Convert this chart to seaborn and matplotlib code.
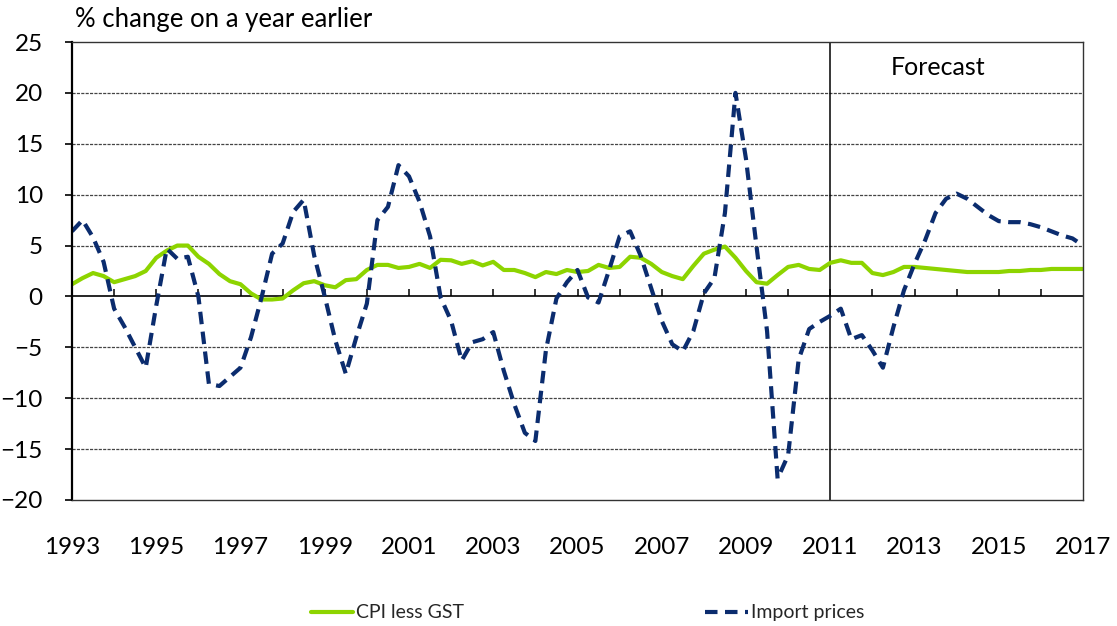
import numpy as np
import pandas as pd
import seaborn as sns
from matplotlib import pyplot as plt

sns.set_theme(style='white')
plt.rcParams['font.family'] = ['Lato', 'DejaVu Sans']

# quarterly, 1993Q1 .. 2017Q1
quarters = pd.period_range('1993Q1', '2017Q1', freq='Q')

cpi_less_gst = [
    1.2, 1.8, 2.3, 2.0, 1.4, 1.7, 2.0, 2.5, 3.8, 4.5, 5.0, 5.0,
    3.9, 3.2, 2.2, 1.5, 1.2, 0.3, -0.3, -0.3, -0.2, 0.6, 1.3, 1.5,
    1.1, 0.9, 1.6, 1.7, 2.6, 3.1, 3.1, 2.8, 2.9, 3.2, 2.8, 3.6,
    3.55, 3.2, 3.45, 3.05, 3.4, 2.6, 2.6, 2.3, 1.9, 2.4, 2.2, 2.6,
    2.4, 2.5, 3.1, 2.8, 2.9, 3.9, 3.8, 3.2, 2.4, 2.0, 1.7, 3.0,
    4.2, 4.6, 4.9, 3.8, 2.5, 1.4, 1.25, 2.1, 2.9, 3.1, 2.7, 2.6,
    3.3, 3.55, 3.3, 3.3, 2.3, 2.1, 2.4, 2.9, 2.9, 2.8, 2.7, 2.6,
    2.5, 2.4, 2.4, 2.4, 2.4, 2.5, 2.5, 2.6, 2.6, 2.7, 2.7, 2.7,
    2.7,
]

import_prices = [
    6.4, 7.5, 5.8, 3.4, -1.2, -3.0, -5.0, -7.0, -0.9, 4.7, 3.7, 3.9,
    0.0, -8.6, -8.8, -7.9, -7.0, -4.0, -0.1, 4.2, 5.2, 8.3, 9.5, 4.0,
    0.0, -4.3, -7.6, -4.0, -0.7, 7.5, 8.8, 12.9, 11.8, 9.3, 5.9, -0.1,
    -2.4, -6.3, -4.5, -4.2, -3.5, -7.3, -10.6, -13.4, -14.2, -5.3, -0.2, 1.4,
    2.6, -0.1, -0.6, 2.6, 5.9, 6.4, 4.0, 0.8, -2.4, -4.7, -5.4, -3.4,
    0.3, 1.8, 8.2, 20.0, 13.5, 4.9, -3.4, -17.9, -15.6, -6.2, -3.2, -2.5,
    -1.9, -1.2, -4.2, -3.8, -5.3, -7.0, -3.0, 0.6, 3.2, 5.5, 8.2, 9.6,
    10.1, 9.6, 8.8, 8.0, 7.4, 7.3, 7.3, 7.1, 6.8, 6.4, 6.0, 5.7,
    5.0,
]

year_labels = [str(y) for y in range(1993, 2018, 2)]
forecast_start = 2011

years = quarters.year + (quarters.quarter - 1) / 4
df = pd.DataFrame({
    'year': np.concatenate([years, years]),
    'value': cpi_less_gst + import_prices,
    'series': ['CPI less GST'] * len(years) + ['Import prices'] * len(years),
})

fig = plt.figure(figsize=(11.17, 6.26), dpi=100)
ax = fig.add_axes([72 / 1117, 1 - 500 / 626, (1083 - 72) / 1117, (500 - 42) / 626])

sns.lineplot(data=df, x='year', y='value', hue='series', style='series',
             palette={'CPI less GST': '#8DD400', 'Import prices': '#0B2C6E'},
             dashes={'CPI less GST': '', 'Import prices': (3, 1.8)},
             linewidth=3, ax=ax, legend=True)

ax.set_xlim(1993, 2017)
ax.set_ylim(-20, 25)
ax.set_yticks(range(-20, 30, 5))
ax.set_xticks([int(y) for y in year_labels])
ax.set_xticklabels(year_labels)
ax.set_xlabel('')
ax.set_ylabel('')

for v in range(-15, 25, 5):
    if v != 0:
        ax.axhline(v, color='#444444', lw=0.9, ls=(0, (2.5, 1)), zorder=0)
ax.axhline(0, color='black', lw=1.2, zorder=1)
ax.vlines(np.arange(1994, 2017), 0, 0.75, color='black', lw=1.1, zorder=1)
ax.axvline(forecast_start, color='black', lw=1.1, zorder=1)
ax.text(2013.55, 22.5, 'Forecast', ha='center', va='center', fontsize=18, color='black')

for side in ['top', 'right', 'bottom']:
    ax.spines[side].set_color('#333333')
    ax.spines[side].set_linewidth(1.0)
ax.spines['left'].set_color('black')
ax.spines['left'].set_linewidth(1.6)

ax.tick_params(axis='y', which='major', left=True, length=5, width=1.2, color='black',
               pad=16, labelsize=17.5, labelcolor='black')
ax.tick_params(axis='x', which='major', bottom=False, length=0, pad=27,
               labelsize=17.5, labelcolor='black')

fig.text(75 / 1117, 1 - 20 / 626, '% change on a year earlier', ha='left', va='center',
         fontsize=18.5, color='black')

handles, labels = ax.get_legend_handles_labels()
ax.get_legend().remove()
fig.legend(handles, labels, loc='center', bbox_to_anchor=(0.526, 0.021), ncol=2,
           frameon=False, fontsize=14, handlelength=2.2, handletextpad=0.15,
           columnspacing=12.4)

fig.savefig('out.png', dpi=100)
